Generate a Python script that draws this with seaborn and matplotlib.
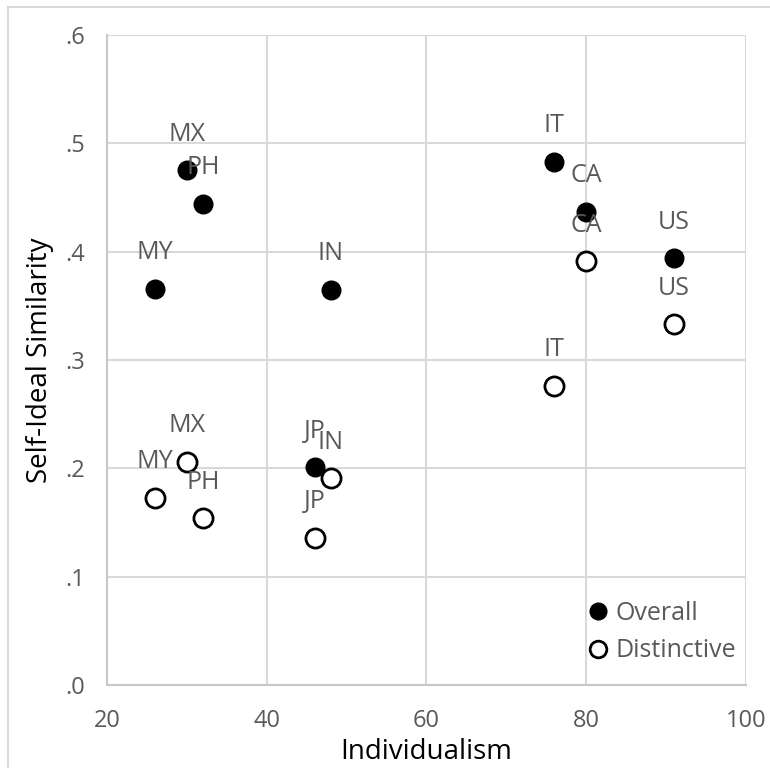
import numpy as np
import pandas as pd
import matplotlib
matplotlib.use("Agg")
import matplotlib.pyplot as plt
import seaborn as sns
from matplotlib.patches import Rectangle
from matplotlib.lines import Line2D

countries = ["MX", "PH", "MY", "IN", "JP", "IT", "CA", "US"]
individualism = [30, 32, 26, 48, 46, 76, 80, 91]
overall = [0.475, 0.444, 0.366, 0.365, 0.201, 0.483, 0.437, 0.394]
distinctive = [0.206, 0.154, 0.173, 0.191, 0.136, 0.276, 0.391, 0.333]

x_ticks = [20, 40, 60, 80, 100]
y_ticks = [0.0, 0.1, 0.2, 0.3, 0.4, 0.5, 0.6]

df = pd.DataFrame({
    "country": countries * 2,
    "Individualism": individualism * 2,
    "similarity": overall + distinctive,
    "series": ["Overall"] * len(countries) + ["Distinctive"] * len(countries),
})

sns.set_style("white")
plt.rcParams["font.family"] = ["Open Sans", "DejaVu Sans"]

fig = plt.figure(figsize=(7.7, 7.68), dpi=100)
ax = fig.add_axes([0.139, 0.108, 0.8295, 0.8464])

grid_c = "#d9d9d9"
text_c = "#595959"

# overall: filled dots, distinctive: hollow circles
ov = df[df.series == "Overall"]
di = df[df.series == "Distinctive"]
sns.scatterplot(data=ov, x="Individualism", y="similarity", ax=ax, s=180,
                color="black", edgecolor="black", linewidth=1, zorder=3)
sns.scatterplot(data=di, x="Individualism", y="similarity", ax=ax, s=190,
                facecolor="white", edgecolor="black", linewidth=2, zorder=3)

for _, r in df.iterrows():
    ax.annotate(r["country"], (r["Individualism"], r["similarity"]),
                xytext=(0, 26), textcoords="offset points", ha="center",
                va="center", fontsize=18, color=text_c, zorder=4)

ax.set_xlim(20, 100)
ax.set_ylim(0, 0.6)
ax.set_xticks(x_ticks)
ax.set_yticks(y_ticks)
ax.set_yticklabels([f"{v:.1f}".lstrip("0") for v in y_ticks])
ax.grid(True, color=grid_c, linewidth=1.5)
ax.set_axisbelow(True)
for side in ["top", "right"]:
    ax.spines[side].set_visible(False)
for side in ["left", "bottom"]:
    ax.spines[side].set_color("#c8c8c8")
    ax.spines[side].set_linewidth(1.5)
ax.tick_params(axis="x", length=0, labelsize=17, colors=text_c, pad=17)
ax.tick_params(axis="y", length=0, labelsize=17, colors=text_c, pad=16)
ax.set_xlabel("Individualism", fontsize=20, color="black", labelpad=4)
ax.set_ylabel("Self-Ideal Similarity", fontsize=20, color="black", labelpad=8)

handles = [
    Line2D([], [], marker="o", linestyle="", markersize=12,
           markerfacecolor="black", markeredgecolor="black"),
    Line2D([], [], marker="o", linestyle="", markersize=12,
           markerfacecolor="white", markeredgecolor="black", markeredgewidth=2),
]
leg = ax.legend(handles, ["Overall", "Distinctive"], loc="lower right",
                bbox_to_anchor=(1.0, 0.018), frameon=False, fontsize=18,
                handletextpad=0.0, labelspacing=0.5, borderaxespad=0,
                handlelength=1.4)
for t in leg.get_texts():
    t.set_color(text_c)

# outer chart border (left and top visible)
fig.patches.append(Rectangle((8 / 770, -0.05), 1.2, 1 - 7 / 768 + 0.05,
                             transform=fig.transFigure, fill=False,
                             edgecolor="#d9d9d9", linewidth=1.5))

fig.savefig("out.png", dpi=100)
